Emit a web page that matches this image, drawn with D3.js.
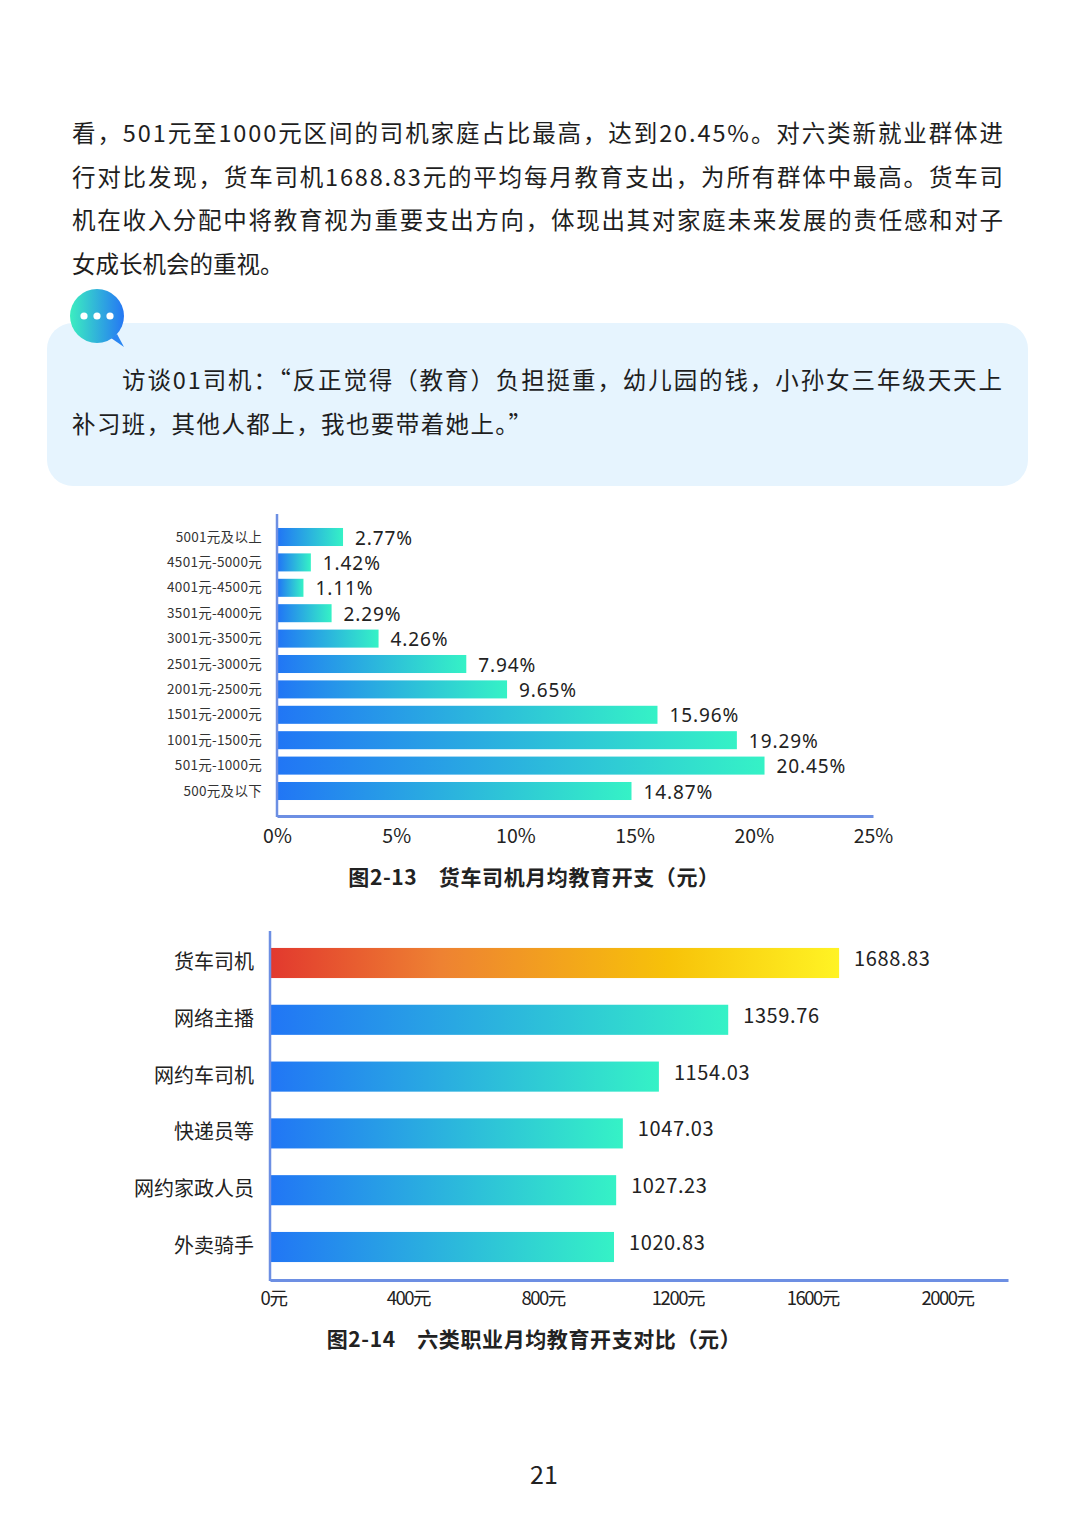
<!DOCTYPE html>
<html>
<head>
<meta charset="utf-8">
<script src="https://cdn.jsdelivr.net/npm/d3@7"></script>
<style>
  body { margin: 0; background: #fff; }
  svg { display: block; font-family: "Noto Sans CJK SC", "Noto Sans", sans-serif; }
</style>
</head>
<body>
<div id="page"></div>
<script>
// page text
const bodyLines = [
  '看，501元至1000元区间的司机家庭占比最高，达到20.45%。对六类新就业群体进',
  '行对比发现，货车司机1688.83元的平均每月教育支出，为所有群体中最高。货车司',
  '机在收入分配中将教育视为重要支出方向，体现出其对家庭未来发展的责任感和对子',
  '女成长机会的重视。'
]
const quoteLines = [
  '访谈01司机：“反正觉得（教育）负担挺重，幼儿园的钱，小孙女三年级天天上',
  '补习班，其他人都上，我也要带着她上。”'
]

// chart 2-13
const incomeCats = ['5001元及以上', '4501元-5000元', '4001元-4500元', '3501元-4000元', '3001元-3500元',
  '2501元-3000元', '2001元-2500元', '1501元-2000元', '1001元-1500元', '501元-1000元', '500元及以下']
const incomeShares = [2.77, 1.42, 1.11, 2.29, 4.26, 7.94, 9.65, 15.96, 19.29, 20.45, 14.87]
const pctTicks = [0, 5, 10, 15, 20, 25]

// chart 2-14
const jobs = ['货车司机', '网络主播', '网约车司机', '快递员等', '网约家政人员', '外卖骑手']
const jobSpend = [1688.83, 1359.76, 1154.03, 1047.03, 1027.23, 1020.83]
const spendTicks = [0, 400, 800, 1200, 1600, 2000]

const W = 1080, H = 1527
const axisColor = '#6d8fe3'

const svg = d3.select('#page').append('svg')
  .attr('width', W)
  .attr('height', H)

const defs = svg.append('defs')
const blueGrad = defs.append('linearGradient').attr('id', 'blueGrad')
blueGrad.append('stop').attr('offset', '0%').attr('stop-color', '#2176f5')
blueGrad.append('stop').attr('offset', '100%').attr('stop-color', '#35f2c6')

const hotGrad = defs.append('linearGradient').attr('id', 'hotGrad')
hotGrad.append('stop').attr('offset', '0%').attr('stop-color', '#e2392e')
hotGrad.append('stop').attr('offset', '30%').attr('stop-color', '#ee8232')
hotGrad.append('stop').attr('offset', '70%').attr('stop-color', '#f7c209')
hotGrad.append('stop').attr('offset', '100%').attr('stop-color', '#fff324')

const bubbleGrad = defs.append('linearGradient').attr('id', 'bubbleGrad')
bubbleGrad.append('stop').attr('offset', '0%').attr('stop-color', '#3ceec0')
bubbleGrad.append('stop').attr('offset', '100%').attr('stop-color', '#2577f4')

// paragraph
svg.selectAll('text.body')
  .data(bodyLines)
  .enter()
  .append('text')
  .attr('class', 'body')
  .attr('x', 72)
  .attr('y', (d, i) => 142 + i * 43.6)
  .attr('font-size', 23.5)
  .attr('fill', '#1e1e1e')
  .attr('textLength', (d, i) => i < 3 ? 931 : null)
  .attr('lengthAdjust', 'spacing')
  .text(d => d)

// quote box
svg.append('rect')
  .attr('x', 47).attr('y', 323)
  .attr('width', 981).attr('height', 163)
  .attr('rx', 26)
  .attr('fill', '#e6f4fe')

svg.selectAll('text.quote')
  .data(quoteLines)
  .enter()
  .append('text')
  .attr('class', 'quote')
  .attr('x', (d, i) => i === 0 ? 122 : 72)
  .attr('y', (d, i) => 389 + i * 43.6)
  .attr('font-size', 23.5)
  .attr('fill', '#1e1e1e')
  .attr('textLength', (d, i) => i === 0 ? 880 : 460)
  .attr('lengthAdjust', 'spacing')
  .text(d => d)

// speech bubble icon
const bubble = svg.append('g').attr('transform', 'translate(97,316)')
bubble.append('path')
  .attr('d', 'M 14 22 L 27 31 L 20 18 Z')
  .attr('fill', '#2a86f2')
bubble.append('circle').attr('r', 27).attr('fill', 'url(#bubbleGrad)')
bubble.selectAll('circle.dot')
  .data([-13, 0, 13])
  .enter()
  .append('circle')
  .attr('class', 'dot')
  .attr('cx', d => d)
  .attr('r', 3.6)
  .attr('fill', '#fff')

// ---------- chart 2-13 ----------
const x1 = d3.scaleLinear().domain([0, 25]).range([277, 873])
const y1 = d3.scaleBand().domain(incomeCats).range([524.3, 803.7]).paddingInner(0.29).paddingOuter(0.145)

const c1 = svg.append('g')

c1.selectAll('rect.bar')
  .data(incomeCats)
  .enter()
  .append('rect')
  .attr('class', 'bar')
  .attr('x', x1(0) + 1)
  .attr('y', d => y1(d))
  .attr('width', (d, i) => x1(incomeShares[i]) - x1(0) - 1)
  .attr('height', y1.bandwidth())
  .attr('fill', 'url(#blueGrad)')

c1.selectAll('text.val')
  .data(incomeCats)
  .enter()
  .append('text')
  .attr('class', 'val')
  .attr('x', (d, i) => x1(incomeShares[i]) + 12)
  .attr('y', d => y1(d) + y1.bandwidth() / 2 + 7.5)
  .attr('font-family', '"Noto Sans", sans-serif')
  .attr('font-size', 19)
  .attr('letter-spacing', 0.9)
  .attr('fill', '#222')
  .text((d, i) => incomeShares[i].toFixed(2) + '%')

c1.selectAll('text.cat')
  .data(incomeCats)
  .enter()
  .append('text')
  .attr('class', 'cat')
  .attr('x', 262)
  .attr('y', d => y1(d) + y1.bandwidth() / 2 + 4.5)
  .attr('text-anchor', 'end')
  .attr('font-size', 13.5)
  .attr('letter-spacing', 0.3)
  .attr('fill', '#333')
  .text(d => d)

c1.append('line')
  .attr('x1', 277).attr('x2', 277)
  .attr('y1', 514).attr('y2', 817)
  .attr('stroke', axisColor).attr('stroke-width', 2.5)

const xAxis1 = c1.append('g')
  .attr('transform', 'translate(0,816)')
  .call(d3.axisBottom(x1).tickValues(pctTicks).tickSize(0).tickPadding(13).tickFormat(d => d + '%'))
xAxis1.select('.domain').attr('stroke', axisColor).attr('stroke-width', 3)
xAxis1.selectAll('text')
  .attr('font-size', 19.5)
  .attr('fill', '#222')
  .attr('font-family', '"Noto Sans CJK SC", sans-serif')

svg.append('text')
  .attr('x', 534).attr('y', 885)
  .attr('text-anchor', 'middle')
  .attr('font-size', 21)
  .attr('font-weight', 'bold')
  .attr('letter-spacing', 0.6)
  .attr('fill', '#222')
  .text('图2-13　货车司机月均教育开支（元）')

// ---------- chart 2-14 ----------
const x2 = d3.scaleLinear().domain([0, 2190]).range([270, 1008])
const y2 = d3.scaleBand().domain(jobs).range([934.6, 1275.4]).paddingInner(0.47).paddingOuter(0.235)

const c2 = svg.append('g')

c2.selectAll('rect.bar')
  .data(jobs)
  .enter()
  .append('rect')
  .attr('class', 'bar')
  .attr('x', x2(0) + 1)
  .attr('y', d => y2(d))
  .attr('width', (d, i) => x2(jobSpend[i]) - x2(0) - 1)
  .attr('height', y2.bandwidth())
  .attr('fill', (d, i) => i === 0 ? 'url(#hotGrad)' : 'url(#blueGrad)')

c2.selectAll('text.val')
  .data(jobs)
  .enter()
  .append('text')
  .attr('class', 'val')
  .attr('x', (d, i) => x2(jobSpend[i]) + 15)
  .attr('y', d => y2(d) + y2.bandwidth() / 2 + 3)
  .attr('font-size', 20)
  .attr('letter-spacing', 0.6)
  .attr('fill', '#222')
  .text((d, i) => jobSpend[i].toFixed(2))

c2.selectAll('text.cat')
  .data(jobs)
  .enter()
  .append('text')
  .attr('class', 'cat')
  .attr('x', 254)
  .attr('y', d => y2(d) + y2.bandwidth() / 2 + 6)
  .attr('text-anchor', 'end')
  .attr('font-size', 20)
  .attr('fill', '#222')
  .text(d => d)

c2.append('line')
  .attr('x1', 270).attr('x2', 270)
  .attr('y1', 931).attr('y2', 1281)
  .attr('stroke', axisColor).attr('stroke-width', 2.5)

const xAxis2 = c2.append('g')
  .attr('transform', 'translate(0,1280)')
  .call(d3.axisBottom(x2).tickValues(spendTicks).tickSize(0).tickPadding(12).tickFormat(d => d + '元'))
xAxis2.select('.domain').attr('stroke', axisColor).attr('stroke-width', 3)
xAxis2.selectAll('text')
  .attr('font-size', 18.5)
  .attr('fill', '#222')
  .attr('letter-spacing', -1.5)
  .attr('dx', 3)
  .attr('font-family', '"Noto Sans CJK SC", sans-serif')

svg.append('text')
  .attr('x', 534).attr('y', 1347)
  .attr('text-anchor', 'middle')
  .attr('font-size', 21)
  .attr('font-weight', 'bold')
  .attr('letter-spacing', 0.6)
  .attr('fill', '#222')
  .text('图2-14　六类职业月均教育开支对比（元）')

// page number
svg.append('text')
  .attr('x', 544).attr('y', 1484)
  .attr('text-anchor', 'middle')
  .attr('font-size', 25)
  .attr('fill', '#222')
  .text('21')
</script>
</body>
</html>
